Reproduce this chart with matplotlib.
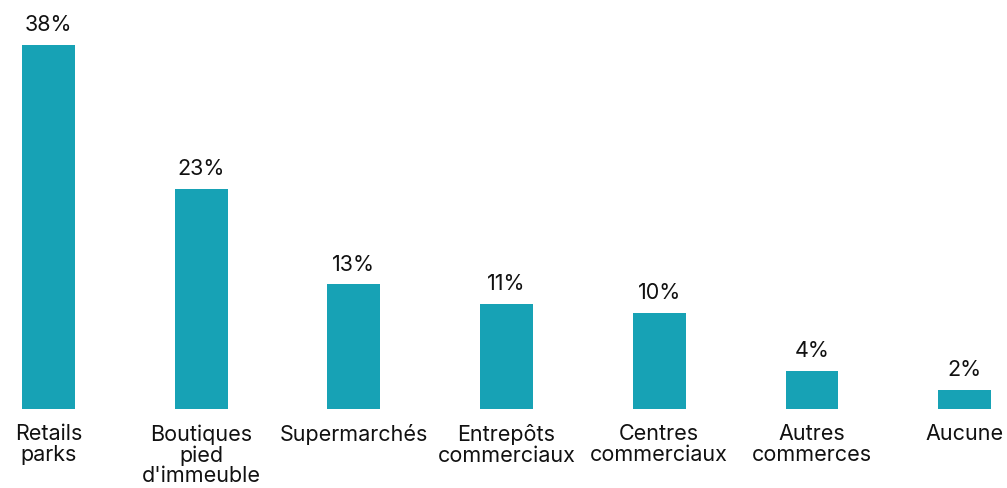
import matplotlib.pyplot as plt

plt.rcParams['font.family'] = ['Inter', 'DejaVu Sans']

categories = ['Retails\nparks', 'Boutiques\npied\nd\'immeuble', 'Supermarchés',
              'Entrepôts\ncommerciaux', 'Centres\ncommerciaux', 'Autres\ncommerces', 'Aucune']
values = [38, 23, 13, 11, 10, 4, 2]

bar_color = '#17a2b5'
text_color = '#111111'

fig = plt.figure(figsize=(10.07, 4.88), dpi=100)
ax = fig.add_axes([0, 79 / 488, 1, 409 / 488])

x = list(range(len(values)))
bars = ax.bar(x, values, width=0.347, color=bar_color)

for b, v in zip(bars, values):
    ax.annotate(f'{v}%', (b.get_x() + b.get_width() / 2, v),
                xytext=(0, 7), textcoords='offset points',
                ha='center', va='bottom', fontsize=15.5, color=text_color)

ax.set_xlim(-48.5 / 152.7, (1007 - 48.5) / 152.7)
ax.set_ylim(0, 409 / 9.58)
ax.set_xticks(x)
ax.set_xticklabels(categories, fontsize=15.5, color=text_color, linespacing=1.02)
ax.tick_params(axis='x', length=0, pad=11)
ax.set_yticks([])
for s in ax.spines.values():
    s.set_visible(False)

fig.savefig('out.png', dpi=100)
